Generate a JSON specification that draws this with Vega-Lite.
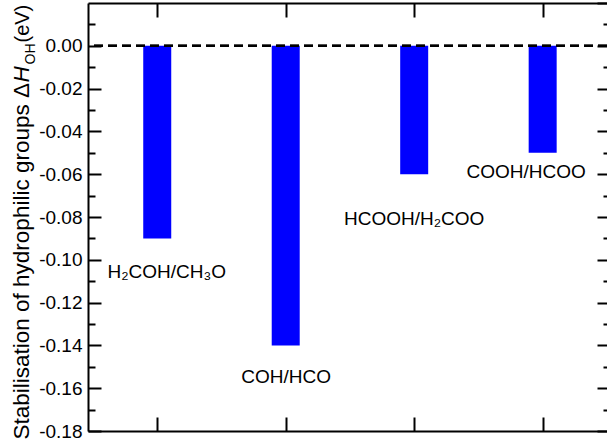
{
  "$schema": "https://vega.github.io/schema/vega-lite/v6.json",
  "autosize": {"type": "none"},
  "width": 519,
  "height": 428,
  "padding": {"left": 88, "top": 3, "right": 0, "bottom": 14},
  "background": "white",
  "data": {
    "values": [
      {"idx": 1, "value": -0.09, "label": "H₂COH/CH₃O"},
      {"idx": 2, "value": -0.14, "label": "COH/HCO"},
      {"idx": 3, "value": -0.06, "label": "HCOOH/H₂COO"},
      {"idx": 4, "value": -0.05, "label": "COOH/HCOO"}
    ]
  },
  "resolve": {"axis": {"x": "independent", "y": "independent"}},
  "layer": [
    {
      "mark": {"type": "bar", "size": 28, "color": "#0000ff"},
      "encoding": {
        "x": {"field": "idx", "type": "quantitative", "scale": {"domain": [0.5, 4.4618], "nice": false, "zero": false},
          "axis": {"orient": "bottom", "values": [1, 2, 3, 4], "ticks": true, "tickSize": -14, "domain": true, "labels": false, "title": null}},
        "y": {"field": "value", "type": "quantitative", "scale": {"domain": [-0.18, 0.02], "nice": false, "zero": false},
          "axis": {"orient": "left", "values": [-0.18, -0.16, -0.14, -0.12, -0.1, -0.08, -0.06, -0.04, -0.02, 0],
            "ticks": true, "tickSize": -13, "labels": true, "labelPadding": 19,
            "labelExpr": "replace(format(datum.value, '.2f'), '−', '-')",
            "domain": true,
            "title": "Stabilisation of hydrophilic groups Δ", "titleFontSize": 22.5, "titleAngle": -90,
            "titleX": -60, "titleY": 436, "titleAlign": "left", "titleBaseline": "alphabetic"}},
        "y2": {"datum": 0}
      }
    },
    {
      "mark": {"type": "rule", "strokeDash": [9, 5], "strokeWidth": 2, "color": "black"},
      "encoding": {
        "y": {"datum": 0, "type": "quantitative", "scale": {"domain": [-0.18, 0.02], "nice": false, "zero": false},
          "axis": {"orient": "left", "values": [-0.17, -0.15, -0.13, -0.11, -0.09, -0.07, -0.05, -0.03, -0.01, 0.01],
            "ticks": true, "tickSize": -7,
            "title": "H", "titleFontSize": 22.5, "titleFontStyle": "italic", "titleAngle": -90,
            "titleX": -60, "titleY": 79, "titleAlign": "left", "titleBaseline": "alphabetic"}}
      }
    },
    {
      "transform": [{"filter": "datum.idx == 1"}],
      "mark": {"type": "text", "fontSize": 19, "align": "center", "baseline": "alphabetic", "dx": 9.5, "dy": 39.6, "color": "black"},
      "encoding": {
        "x": {"field": "idx", "type": "quantitative", "scale": {"domain": [0.5, 4.4618], "nice": false, "zero": false},
          "axis": {"orient": "top", "values": [1, 2, 3, 4], "ticks": true, "tickSize": -14, "domain": true, "labels": false, "title": null}},
        "y": {"field": "value", "type": "quantitative", "scale": {"domain": [-0.18, 0.02], "nice": false, "zero": false},
          "axis": {"orient": "left", "title": "OH", "titleFontSize": 14, "titleAngle": -90,
            "titleX": -54, "titleY": 61, "titleAlign": "left", "titleBaseline": "alphabetic"}},
        "text": {"field": "label"}
      }
    },
    {
      "transform": [{"filter": "datum.idx == 2"}],
      "mark": {"type": "text", "fontSize": 19, "align": "center", "baseline": "alphabetic", "dx": 0.5, "dy": 37.6, "color": "black"},
      "encoding": {
        "x": {"field": "idx", "type": "quantitative", "scale": {"domain": [0.5, 4.4618], "nice": false, "zero": false}, "axis": null},
        "y": {"field": "value", "type": "quantitative", "scale": {"domain": [-0.18, 0.02], "nice": false, "zero": false},
          "axis": {"orient": "left", "title": "(eV)", "titleFontSize": 20, "titleAngle": -90,
            "titleX": -60, "titleY": 39, "titleAlign": "left", "titleBaseline": "alphabetic"}},
        "text": {"field": "label"}
      }
    },
    {
      "transform": [{"filter": "datum.idx == 3"}],
      "mark": {"type": "text", "fontSize": 19, "align": "center", "baseline": "alphabetic", "dx": 0, "dy": 51, "color": "black"},
      "encoding": {
        "x": {"field": "idx", "type": "quantitative", "scale": {"domain": [0.5, 4.4618], "nice": false, "zero": false}, "axis": null},
        "y": {"field": "value", "type": "quantitative", "scale": {"domain": [-0.18, 0.02], "nice": false, "zero": false},
          "axis": {"orient": "right", "values": [-0.18, -0.16, -0.14, -0.12, -0.1, -0.08, -0.06, -0.04, -0.02, 0, 0.02],
            "ticks": true, "tickSize": -10, "title": null}},
        "text": {"field": "label"}
      }
    },
    {
      "transform": [{"filter": "datum.idx == 4"}],
      "mark": {"type": "text", "fontSize": 19, "align": "center", "baseline": "alphabetic", "dx": -16.5, "dy": 25, "color": "black"},
      "encoding": {
        "x": {"field": "idx", "type": "quantitative", "scale": {"domain": [0.5, 4.4618], "nice": false, "zero": false}, "axis": null},
        "y": {"field": "value", "type": "quantitative", "scale": {"domain": [-0.18, 0.02], "nice": false, "zero": false},
          "axis": {"orient": "right", "values": [-0.17, -0.15, -0.13, -0.11, -0.09, -0.07, -0.05, -0.03, -0.01, 0.01],
            "ticks": true, "tickSize": -4, "title": null}},
        "text": {"field": "label"}
      }
    }
  ],
  "config": {
    "view": {"stroke": null},
    "axis": {
      "grid": false, "domain": false, "ticks": false, "labels": false,
      "tickColor": "black", "tickWidth": 2, "domainColor": "black", "domainWidth": 2,
      "labelFont": "Liberation Sans", "labelFontSize": 19, "labelColor": "black",
      "titleFont": "Liberation Sans", "titleColor": "black", "titleFontWeight": "normal"
    },
    "text": {"font": "Liberation Sans"}
  }
}
